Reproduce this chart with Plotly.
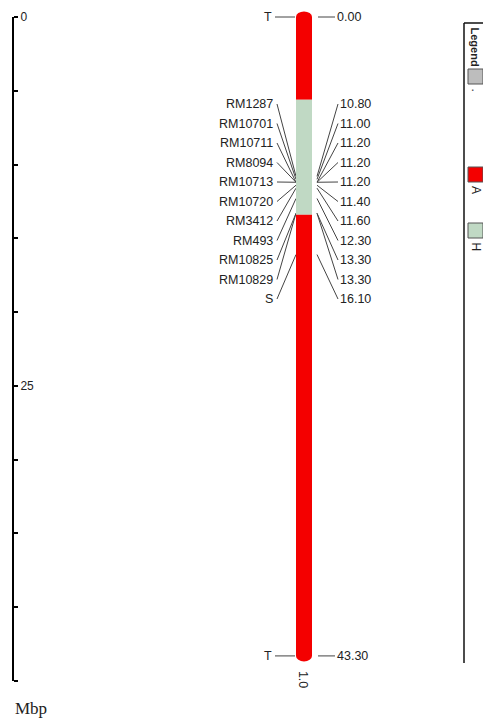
import plotly.graph_objects as go

# ---------------- data ----------------
marker_names = ["RM1287", "RM10701", "RM10711", "RM8094", "RM10713", "RM10720",
                "RM3412", "RM493", "RM10825", "RM10829", "S"]
marker_pos = [10.80, 11.00, 11.20, 11.20, 11.20, 11.40, 11.60, 12.30, 13.30, 13.30, 16.10]
marker_pos_text = ["10.80", "11.00", "11.20", "11.20", "11.20", "11.40", "11.60",
                   "12.30", "13.30", "13.30", "16.10"]
chrom_start = 0.0
chrom_end = 43.30
chrom_name = "1.0"
end_labels = ["T", "T"]
end_pos_text = ["0.00", "43.30"]

segment_starts = [0.0, 5.6, 13.4]
segment_ends = [5.6, 13.4, 43.3]
segment_geno = ["A", "H", "A"]

legend_names = [".", "A", "H"]
legend_colors = ["#bdbdbd", "#f40000", "#c0d9c4"]
geno_colors = dict(zip(legend_names, legend_colors))

axis_ticks = [0, 5, 10, 15, 20, 25, 30, 35, 40, 45]
axis_ticktext = ["0", "", "", "", "", "25", "", "", "", ""]
axis_title = "Mbp"

# ---------------- layout helpers ----------------
W, H = 491, 724
OFF = 8                            # page body margin in the viewer
FW, FH = W - OFF, H - OFF          # figure size so that it fits the window
TOP_PX, BOT_PX = 17, 681           # pixel rows of 0 and 45 on the scale
PX = (BOT_PX - TOP_PX) / 45.0      # pixels per Mbp


def py(pix):
    """window pixel row -> data value (for placing labels)"""
    return (pix - TOP_PX) / PX


TXT = "#222222"
FONT = "Liberation Sans, Arial, sans-serif"
FS = 12.5
CX0, CX1 = 296, 312                # chromosome left/right x (window pixels)
CXM = (CX0 + CX1) / 2
LINE = dict(color="#444444", width=1, simplify=False)

fig = go.Figure()
shapes = []
annotations = []

# chromosome segments
for s, e, g in zip(segment_starts, segment_ends, segment_geno):
    shapes.append(dict(type="rect", xref="x", yref="y", x0=CX0, x1=CX1, y0=s, y1=e,
                       fillcolor=geno_colors[g], line=dict(width=0), layer="above"))
# rounded caps
cap = 5.5 / PX
for yc, g in [(chrom_start, segment_geno[0]), (chrom_end, segment_geno[-1])]:
    shapes.append(dict(type="circle", xref="x", yref="y", x0=CX0, x1=CX1,
                       y0=yc - cap, y1=yc + cap, fillcolor=geno_colors[g],
                       line=dict(width=0), layer="above"))

# marker label positions (spread)
lab_first = py(104)
lab_step = 19.5 / PX
lab_y = [lab_first + i * lab_step for i in range(len(marker_names))]

# leader lines
for p, yl in zip(marker_pos, lab_y):
    fig.add_trace(go.Scatter(x=[277, CX0], y=[yl, p], mode="lines", line=LINE,
                             hoverinfo="skip", showlegend=False))
    fig.add_trace(go.Scatter(x=[CX1 + 5, 338], y=[p, yl], mode="lines", line=LINE,
                             hoverinfo="skip", showlegend=False))
for p in [chrom_start, chrom_end]:
    fig.add_trace(go.Scatter(x=[275, CX0 - 1], y=[p, p], mode="lines", line=LINE,
                             hoverinfo="skip", showlegend=False))
    fig.add_trace(go.Scatter(x=[CX1 + 6, 335], y=[p, p], mode="lines", line=LINE,
                             hoverinfo="skip", showlegend=False))

for name, txt, yl in zip(marker_names, marker_pos_text, lab_y):
    annotations.append(dict(x=275, y=yl, xref="x", yref="y", text=name, showarrow=False,
                            xanchor="right", yanchor="middle", font=dict(size=FS, color=TXT, family=FONT)))
    annotations.append(dict(x=338, y=yl, xref="x", yref="y", text=txt, showarrow=False,
                            xanchor="left", yanchor="middle", font=dict(size=FS, color=TXT, family=FONT)))
for lab, txt, p in zip(end_labels, end_pos_text, [chrom_start, chrom_end]):
    annotations.append(dict(x=274, y=p, xref="x", yref="y", text=lab, showarrow=False,
                            xanchor="right", yanchor="middle", font=dict(size=FS, color=TXT, family=FONT)))
    annotations.append(dict(x=335, y=p, xref="x", yref="y", text=txt, showarrow=False,
                            xanchor="left", yanchor="middle", font=dict(size=FS, color=TXT, family=FONT)))

# chromosome name (rotated)
annotations.append(dict(x=CXM - 1, y=chrom_end + cap, xref="x", yref="y", text=chrom_name, showarrow=False,
                        textangle=90, xanchor="center", yanchor="top", yshift=-7,
                        font=dict(size=FS, color=TXT, family=FONT)))

# axis title
annotations.append(dict(x=13, y=py(708), xref="x", yref="y", text=axis_title, showarrow=False,
                        xanchor="left", yanchor="middle",
                        font=dict(size=17, color=TXT, family="Liberation Serif, Times New Roman, serif")))

# legend box
LX = 464
shapes.append(dict(type="line", xref="x", yref="y", x0=LX, x1=LX, y0=py(23), y1=py(663),
                   line=dict(color="#111111", width=1.5)))
shapes.append(dict(type="line", xref="x", yref="y", x0=LX, x1=W, y0=py(23), y1=py(23),
                   line=dict(color="#111111", width=1.5)))
annotations.append(dict(x=475, y=py(25), xref="x", yref="y", text="<b>Legend</b>", showarrow=False,
                        textangle=90, xanchor="center", yanchor="top",
                        font=dict(size=11, color=TXT, family=FONT)))
leg_sq_top = [69, 167, 223]
for nm, col, top in zip(legend_names, legend_colors, leg_sq_top):
    shapes.append(dict(type="rect", xref="x", yref="y", x0=468, x1=483, y0=py(top), y1=py(top + 15),
                       fillcolor=col, line=dict(color="#555555", width=1)))
    annotations.append(dict(x=476, y=py(top + 17), xref="x", yref="y", text=nm, showarrow=False,
                            textangle=90, xanchor="center", yanchor="top",
                            font=dict(size=12, color=TXT, family=FONT)))

# dummy trace for the scale axis
fig.add_trace(go.Scatter(x=[None], y=[None], yaxis="y2", showlegend=False, hoverinfo="skip"))

fig.update_layout(
    width=FW, height=FH,
    margin=dict(l=0, r=0, t=0, b=0, autoexpand=False),
    paper_bgcolor="white", plot_bgcolor="rgba(0,0,0,0)",
    showlegend=False,
    shapes=shapes, annotations=annotations,
    xaxis=dict(range=[OFF, W], visible=False, fixedrange=True, automargin=False),
    yaxis=dict(range=[py(H), py(OFF)], visible=False, fixedrange=True, automargin=False),
    yaxis2=dict(domain=[1 - (BOT_PX - OFF) / FH, 1 - (TOP_PX - OFF) / FH], range=[45, 0],
                anchor="free", position=(13 - OFF) / FW, side="right", automargin=False,
                showline=True, linecolor="black", linewidth=2,
                ticks="outside", ticklen=4, tickwidth=1.5, tickcolor="black",
                tickvals=axis_ticks, ticktext=axis_ticktext, ticklabelposition="outside",
                tickfont=dict(size=12, color=TXT, family=FONT),
                showgrid=False, zeroline=False, fixedrange=True),
)

fig.write_html("out.html")
